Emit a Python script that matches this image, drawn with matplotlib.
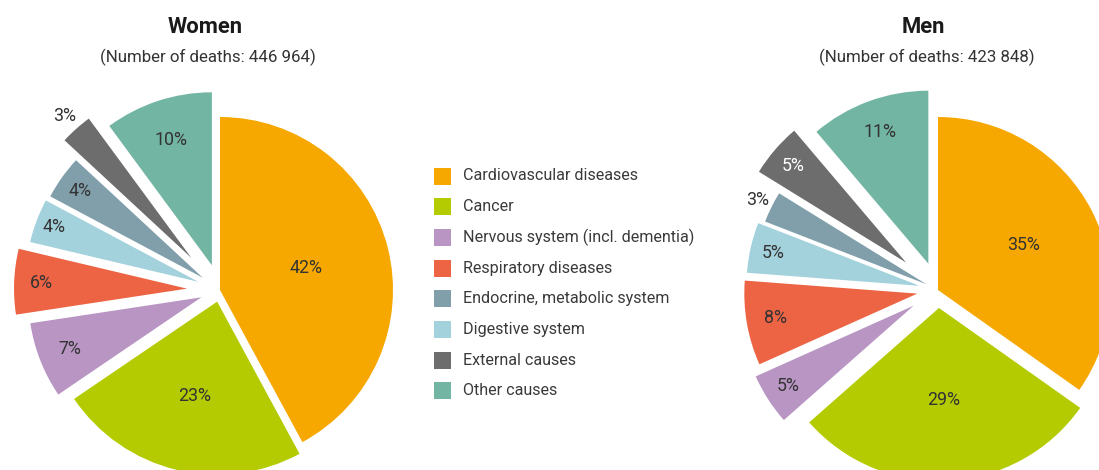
import matplotlib
matplotlib.use("Agg")
import matplotlib.pyplot as plt
from matplotlib import font_manager
from matplotlib.patches import Rectangle
import numpy as np

# ---------------- data ----------------
causes = ["Cardiovascular diseases", "Cancer", "Nervous system (incl. dementia)",
          "Respiratory diseases", "Digestive system", "Endocrine, metabolic system",
          "External causes", "Other causes"]
women_share = [42.1, 23.4, 7.1, 6.1, 4.1, 4.1, 3.0, 10.1]
men_share = [34.8, 28.7, 4.8, 7.9, 4.7, 2.9, 5.0, 11.2]
legend_order = ["Cardiovascular diseases", "Cancer", "Nervous system (incl. dementia)",
                "Respiratory diseases", "Endocrine, metabolic system", "Digestive system",
                "External causes", "Other causes"]
titles = ["Women", "Men"]
death_counts = ["446 964", "423 848"]

# ---------------- style ----------------
colors = {
    "Cardiovascular diseases": "#F6A800",
    "Cancer": "#B3CB00",
    "Nervous system (incl. dementia)": "#B995C4",
    "Respiratory diseases": "#EC6444",
    "Digestive system": "#A3D1DC",
    "Endocrine, metabolic system": "#809FAA",
    "External causes": "#6D6D6D",
    "Other causes": "#73B5A3",
}
women_explode = [0, 12, 20, 33, 23, 21, 43, 26]
men_explode = [0, 18, 29, 21, 19, 13, 42, 28]
women_label_r = [0.51, 0.56, 0.82, 0.84, 0.89, 0.87, 1.10, 0.76]
men_label_r = [0.56, 0.53, 0.86, 0.83, 0.87, 1.09, 0.86, 0.81]
men_label_colors = ["#333333"] * 6 + ["white", "#333333"]
women_label_colors = ["#333333"] * 8

names = {f.name for f in font_manager.fontManager.ttflist}
if "Liberation Sans Narrow" in names:
    fam = ["Liberation Sans Narrow", "DejaVu Sans"]
    fs_leg, fs_lab, fs_sub, fs_title = 14, 14.5, 14, 18
else:
    fam = ["Roboto", "DejaVu Sans"]
    fs_leg, fs_lab, fs_sub, fs_title = 11.6, 12.8, 12.2, 15.8
plt.rcParams["font.family"] = fam

W, H = 1099, 470
fig = plt.figure(figsize=(W / 100, H / 100), dpi=100)
ax = fig.add_axes([0, 0, 1, 1])

R = 173
centers = [(220, H - 290), (938, H - 290)]
title_x = [205, 923]
sub_x = [208, 927]

for share, expl, lab_r, lab_c, center, title, cnt, tx, sx in zip(
        [women_share, men_share], [women_explode, men_explode],
        [women_label_r, men_label_r], [women_label_colors, men_label_colors],
        centers, titles, death_counts, title_x, sub_x):
    wedges, _ = ax.pie(share, explode=expl, colors=[colors[c] for c in causes],
                       startangle=90, counterclock=False, radius=R, center=center,
                       wedgeprops=dict(linewidth=0))
    for w, v, lr, lc in zip(wedges, share, lab_r, lab_c):
        th = np.deg2rad((w.theta1 + w.theta2) / 2)
        cx, cy = w.center
        ax.text(cx + lr * R * np.cos(th), cy + lr * R * np.sin(th), f"{v:.0f}%",
                ha="center", va="center", fontsize=fs_lab, color=lc)
    ax.text(tx, H - 27, title, ha="center", va="center", fontsize=fs_title,
            fontweight="bold", color="#1a1a1a")
    ax.text(sx, H - 57, f"(Number of deaths: {cnt})", ha="center", va="center",
            fontsize=fs_sub, color="#333333")

# legend
for i, name in enumerate(legend_order):
    yc = H - (176 + i * 30.7)
    ax.add_patch(Rectangle((434, yc - 8.5), 17, 17, facecolor=colors[name], edgecolor="none"))
    ax.text(463, yc, name, ha="left", va="center", fontsize=fs_leg, color="#3a3a3a")

ax.set_xlim(0, W)
ax.set_ylim(0, H)
ax.set_aspect("equal")
ax.axis("off")
fig.savefig("out.png", dpi=100, facecolor="white")
